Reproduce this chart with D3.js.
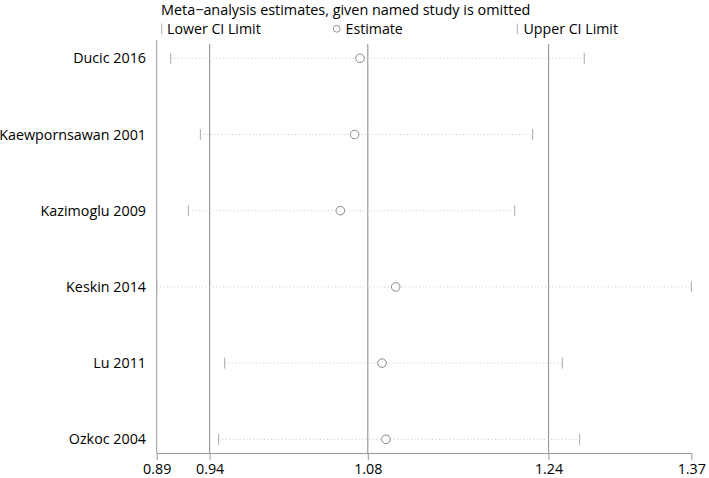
<!DOCTYPE html>
<html>
<head>
<meta charset="utf-8">
<script src="https://cdn.jsdelivr.net/npm/d3@7"></script>
<style>
  html, body { margin: 0; padding: 0; background: #fff; }
  svg { display: block; font-family: "Open Sans", "Noto Sans", sans-serif; }
</style>
</head>
<body>
<svg id="chart" width="709" height="478"></svg>
<script>
// ---- data ----
const studies = ["Ducic 2016", "Kaewpornsawan 2001", "Kazimoglu 2009", "Keskin 2014", "Lu 2011", "Ozkoc 2004"];
const lowerCI = [0.9002, 0.9271, 0.9162, 0.8875, 0.9492, 0.9437];
const estimate = [1.0719, 1.0671, 1.0541, 1.1043, 1.0919, 1.0955];
const upperCI = [1.2754, 1.2286, 1.2123, 1.3725, 1.2555, 1.2712];
const overall = [0.9355, 1.0790, 1.2430];          // pooled lower, estimate, upper
const tickValues = [0.8875, 0.9355, 1.0790, 1.2430, 1.3725];
const titleText = "Meta\u2212analysis estimates, given named study is omitted";
const legendLabels = ["Lower CI Limit", "Estimate", "Upper CI Limit"];

// ---- layout ----
const svg = d3.select("#chart");
const x = d3.scaleLinear().domain([0.8875, 1.3725]).range([156.7, 691.3]);
const y = d3.scalePoint().domain(studies).range([58.3, 439.3]);
const plotTop = 44, plotBottom = 453;
const gray = "#9a9a9a";
const ink = "#000";

const rows = studies.map((s, i) => ({ s, lo: lowerCI[i], est: estimate[i], hi: upperCI[i] }));

// title
svg.append("text").attr("x", 161).attr("y", 15)
  .attr("font-size", 14.4).attr("fill", ink).text(titleText);

// legend
const leg = svg.append("g");
leg.append("line").attr("x1", 161.7).attr("x2", 161.7).attr("y1", 23.5).attr("y2", 34)
  .attr("stroke", "#aaa").attr("stroke-width", 1);
leg.append("text").attr("x", 167).attr("y", 33.5).attr("font-size", 14.2).attr("fill", ink).text(legendLabels[0]);
leg.append("circle").attr("cx", 336.7).attr("cy", 28.8).attr("r", 3.4)
  .attr("fill", "#fff").attr("stroke", "#888").attr("stroke-width", 0.9);
leg.append("text").attr("x", 345.5).attr("y", 33.5).attr("font-size", 14.2).attr("fill", ink).text(legendLabels[1]);
leg.append("line").attr("x1", 517.3).attr("x2", 517.3).attr("y1", 23.5).attr("y2", 34)
  .attr("stroke", "#aaa").attr("stroke-width", 1);
leg.append("text").attr("x", 523.5).attr("y", 33.5).attr("font-size", 14.2).attr("fill", ink).text(legendLabels[2]);

// left axis line
svg.append("line").attr("x1", x.range()[0]).attr("x2", x.range()[0])
  .attr("y1", plotTop - 4).attr("y2", plotBottom).attr("stroke", gray).attr("stroke-width", 1);

// pooled reference lines
svg.append("g").selectAll("line").data(overall).join("line")
  .attr("x1", d => x(d)).attr("x2", d => x(d))
  .attr("y1", plotTop).attr("y2", plotBottom)
  .attr("stroke", gray).attr("stroke-width", 1.2);

// study labels
svg.append("g").selectAll("text").data(rows).join("text")
  .attr("x", 146).attr("y", d => y(d.s)).attr("dy", "0.35em")
  .attr("text-anchor", "end").attr("font-size", 14.3).attr("fill", ink)
  .text(d => d.s);

// dotted CI lines
svg.append("g").selectAll("line").data(rows).join("line")
  .attr("x1", d => x(d.lo)).attr("x2", d => x(d.hi))
  .attr("y1", d => y(d.s)).attr("y2", d => y(d.s))
  .attr("stroke", "#c4c4c4").attr("stroke-width", 1).attr("stroke-dasharray", "1,2.5");

// CI caps
const caps = svg.append("g");
caps.selectAll("line.lo").data(rows).join("line").attr("class", "lo")
  .attr("x1", d => x(d.lo)).attr("x2", d => x(d.lo))
  .attr("y1", d => y(d.s) - 5.5).attr("y2", d => y(d.s) + 5.5)
  .attr("stroke", "#aaa").attr("stroke-width", 1);
caps.selectAll("line.hi").data(rows).join("line").attr("class", "hi")
  .attr("x1", d => x(d.hi)).attr("x2", d => x(d.hi))
  .attr("y1", d => y(d.s) - 5.5).attr("y2", d => y(d.s) + 5.5)
  .attr("stroke", "#aaa").attr("stroke-width", 1);

// estimates
svg.append("g").selectAll("circle").data(rows).join("circle")
  .attr("cx", d => x(d.est)).attr("cy", d => y(d.s)).attr("r", 4.3)
  .attr("fill", "#fff").attr("stroke", "#888").attr("stroke-width", 1);

// x axis
const axis = d3.axisBottom(x).tickValues(tickValues).tickFormat(d3.format(".2f"))
  .tickSizeInner(7).tickSizeOuter(0).tickPadding(4);
const gx = svg.append("g").attr("transform", `translate(0,${plotBottom})`).call(axis);
gx.select(".domain").attr("stroke", gray).attr("stroke-width", 1);
gx.selectAll(".tick line").attr("stroke", gray).attr("stroke-width", 1);
gx.selectAll(".tick text").attr("font-size", 14.3).attr("fill", ink)
  .attr("font-family", "'Open Sans', 'Noto Sans', sans-serif");
</script>
</body>
</html>
